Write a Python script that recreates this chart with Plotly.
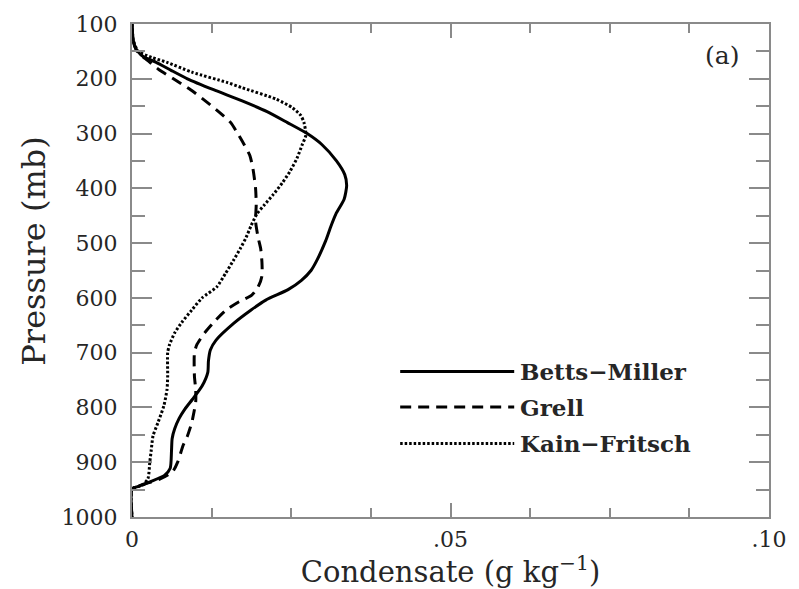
import plotly.graph_objects as go

# Vertical profiles of condensate (g/kg) against pressure (mb)
bm_p = [100, 120, 140, 150, 160, 170, 185, 200, 220, 240, 260, 280, 300, 320, 350,
        375, 395, 420, 447, 470, 496, 532, 550, 568, 585, 604, 622, 646, 677, 695,
        715, 736, 761, 785, 803, 820, 839, 857, 880, 911, 924, 935, 944, 949, 1000]
bm_q = [0, 0.0001, 0.0004, 0.0009, 0.0018, 0.0038, 0.0062, 0.0087, 0.0128, 0.0172,
        0.0212, 0.0244, 0.0275, 0.0298, 0.0321, 0.0334, 0.0337, 0.0333, 0.0320, 0.0312,
        0.0304, 0.0290, 0.0281, 0.0266, 0.0245, 0.0210, 0.0187, 0.0160, 0.0132, 0.0123,
        0.0120, 0.0119, 0.0110, 0.0095, 0.0083, 0.0074, 0.0067, 0.0063, 0.0062, 0.0060,
        0.0051, 0.0030, 0.0010, 0, 0]

gr_p = [100, 130, 150, 167, 183, 200, 220, 243, 264, 280, 300, 320, 340, 365, 400,
        430, 460, 490, 510, 535, 560, 580, 595, 607, 622, 640, 664, 685, 700, 743,
        767, 790, 810, 827, 852, 870, 899, 917, 930, 940, 949, 1000]
gr_q = [0, 0.0002, 0.0008, 0.0025, 0.0042, 0.0065, 0.0092, 0.0118, 0.0140, 0.0155,
        0.0166, 0.0176, 0.0185, 0.0190, 0.0194, 0.0195, 0.0194, 0.0198, 0.0202, 0.0204,
        0.0204, 0.0198, 0.0188, 0.0168, 0.0148, 0.0132, 0.0114, 0.0102, 0.0098, 0.0098,
        0.0100, 0.0100, 0.0097, 0.0094, 0.0087, 0.0080, 0.0072, 0.0064, 0.0045, 0.0020,
        0, 0]

kf_p = [100, 130, 150, 161, 170, 188, 207, 216, 237, 253, 267, 280, 303, 321, 345,
        369, 390, 411, 430, 447, 468, 490, 510, 532, 555, 580, 600, 622, 645, 664,
        685, 700, 743, 767, 797, 827, 852, 880, 899, 930, 942, 949, 1000]
kf_q = [0, 0.0002, 0.0010, 0.0031, 0.0055, 0.0094, 0.0150, 0.0172, 0.0226, 0.0252,
        0.0265, 0.0270, 0.0273, 0.0267, 0.0259, 0.0248, 0.0236, 0.0222, 0.0208, 0.0196,
        0.0187, 0.0179, 0.0170, 0.0159, 0.0147, 0.0133, 0.0110, 0.0094, 0.0078, 0.0067,
        0.0059, 0.0056, 0.0056, 0.0055, 0.0050, 0.0041, 0.0033, 0.0030, 0.0028, 0.0025,
        0.0016, 0, 0]

series_names = ["Betts\u2212Miller", "Grell", "Kain\u2212Fritsch"]
dash_styles = ["solid", "11px,7px", "2.5px,2px"]

x_tickvals = [0, 0.05, 0.10]
x_ticktext = ["0", ".05", ".10"]
y_tickvals = [100, 200, 300, 400, 500, 600, 700, 800, 900, 1000]

FONT = "DejaVu Serif"
INK = "#262626"
AXIS = "#8a8a8a"
LW = 3

fig = go.Figure()
for name, q, p, dash in zip(series_names, [bm_q, gr_q, kf_q], [bm_p, gr_p, kf_p], dash_styles):
    fig.add_trace(go.Scatter(
        x=q, y=p, mode="lines", name=name, showlegend=False,
        line=dict(color="black", width=LW, dash=dash, shape="spline", smoothing=0.6),
    ))

fig.update_layout(
    width=799, height=589,
    margin=dict(l=132, r=26, t=21, b=70),
    paper_bgcolor="white", plot_bgcolor="white",
    font=dict(family=FONT, color=INK, size=22),
    xaxis=dict(
        range=[0, 0.10], tickvals=x_tickvals, ticktext=x_ticktext,
        showgrid=False, zeroline=False,
        showline=True, linecolor=AXIS, linewidth=2, mirror="ticks",
        ticks="inside", ticklen=14, tickwidth=2, tickcolor=AXIS,
        minor=dict(dtick=0.0125, tick0=0, ticks="inside", ticklen=9,
                   tickwidth=2, tickcolor=AXIS, showgrid=False),
        tickfont=dict(family=FONT, size=22, color=INK),
        ticklabelstandoff=2,
        title=dict(text="Condensate (g kg<sup>\u22121</sup>)",
                   font=dict(family=FONT, size=29, color=INK), standoff=4),
    ),
    yaxis=dict(
        range=[1000, 100], tickvals=y_tickvals,
        showgrid=False, zeroline=False,
        showline=True, linecolor=AXIS, linewidth=2, mirror="ticks",
        ticks="inside", ticklen=20, tickwidth=2, tickcolor=AXIS,
        minor=dict(dtick=50, tick0=100, ticks="inside", ticklen=13,
                   tickwidth=2, tickcolor=AXIS, showgrid=False),
        tickfont=dict(family=FONT, size=22, color=INK),
        ticklabelstandoff=8,
    ),
)

# y-axis title
fig.add_annotation(
    text="Pressure (mb)", xref="paper", yref="paper", x=-0.154, y=0.54,
    xanchor="center", yanchor="middle",
    textangle=-90, showarrow=False, font=dict(family=FONT, size=32, color=INK),
)

# panel label
fig.add_annotation(
    text="(a)", xref="paper", yref="paper", x=0.927, y=0.936,
    xanchor="center", yanchor="middle",
    showarrow=False, font=dict(family=FONT, size=25, color=INK),
)

# legend key drawn inside the plot
legend_rows = [0.295, 0.223, 0.149]
for name, dash, yrow in zip(series_names, dash_styles, legend_rows):
    fig.add_shape(type="line", xref="paper", yref="paper",
                  x0=0.421, x1=0.600, y0=yrow, y1=yrow,
                  line=dict(color="black", width=LW, dash=dash))
    fig.add_annotation(text=name, xref="paper", yref="paper", x=0.606, y=yrow,
                       xanchor="left", yanchor="middle", showarrow=False,
                       font=dict(family=FONT, size=23, color=INK, weight="bold"))

fig.write_html("out.html")
